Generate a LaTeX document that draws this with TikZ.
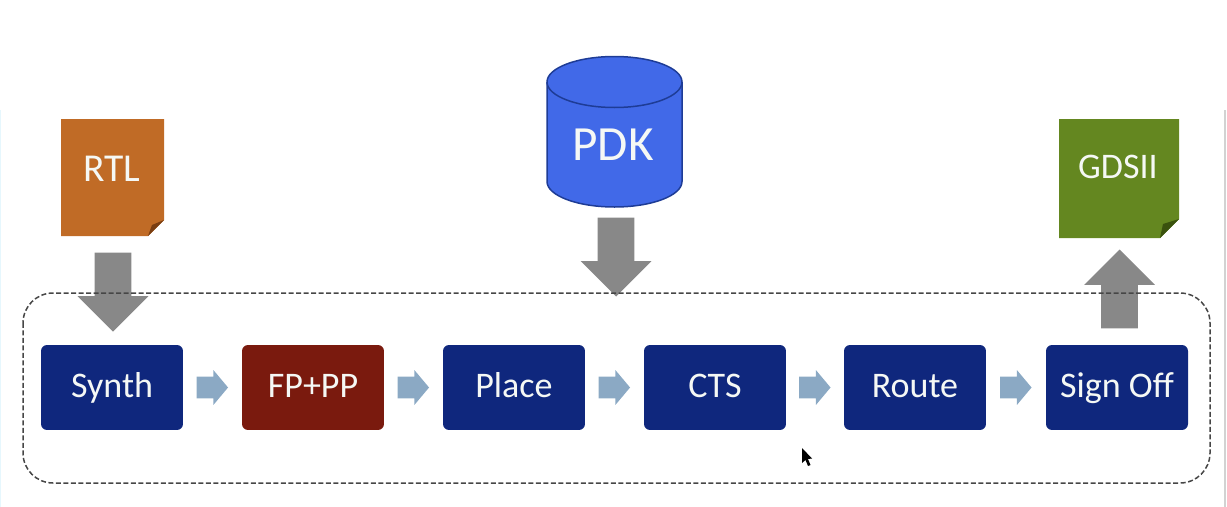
\documentclass[tikz,border=0pt]{standalone}
\usepackage{fontspec}
\setmainfont{Carlito}
\usepackage{tikz}
\usetikzlibrary{calc, shapes.arrows}
\definecolor{boxBlue}{RGB}{15, 39, 125}
\definecolor{boxRed}{RGB}{122, 26, 14}
\definecolor{noteOrange}{RGB}{192, 107, 38}
\definecolor{foldOrange}{RGB}{122, 62, 18}
\definecolor{noteGreen}{RGB}{100, 135, 32}
\definecolor{foldGreen}{RGB}{58, 82, 14}
\definecolor{pdkBlue}{RGB}{65, 105, 232}
\definecolor{pdkEdge}{RGB}{30, 60, 150}
\definecolor{arrowGray}{RGB}{136, 136, 136}
\definecolor{arrowBlue}{RGB}{139, 169, 196}
\definecolor{dashGray}{RGB}{70, 70, 70}
\definecolor{textWhite}{RGB}{245, 248, 245}
\tikzset{
  stage/.style={rounded corners=0.12cm, minimum width=2.84cm, minimum height=1.7cm, inner sep=0pt,
    text height=0.5cm, text depth=0.1cm, text=textWhite, font=\fontsize{20.5}{22}\selectfont},
  flow/.style={single arrow, anchor=tip, fill=arrowBlue, minimum height=0.63cm, inner xsep=0pt, inner ysep=0.21cm,
    single arrow head extend=0.13cm, single arrow head indent=0pt, single arrow tip angle=100},
  feed/.style={single arrow, anchor=tip, fill=arrowGray, minimum height=1.58cm, inner xsep=0pt, inner ysep=0.36cm,
    single arrow head extend=0.34cm, single arrow head indent=0pt}
}
\begin{document}
\begin{tikzpicture}[x=0.02cm, y=-0.02cm]
  \useasboundingbox (0,0) rectangle (1227,507);
  \draw[gray!35, line width=0.03cm] (1225,110) -- (1225,507);
  \draw[cyan!10, line width=0.05cm] (0,110) -- (0,507);

  \node[feed, rotate=-90] (rtlArrow) at (113,332) {};
  \node[feed, rotate=-90] (pdkArrow) at (616,297) {};
  \node[feed, rotate=90] (gdsArrow) at (1119.5,249) {};
  \draw[dashGray, line width=0.03cm, dash pattern=on 0.1cm off 0.05cm, rounded corners=0.6cm]
    (23,293) rectangle (1210,483);

  \node[stage, fill=boxBlue] (synth) at (112,387.5) {Synth};
  \node[stage, fill=boxRed] (fppp) at (313,387.5) {FP+PP};
  \node[stage, fill=boxBlue] (place) at (514,387.5) {Place};
  \node[stage, fill=boxBlue] (cts) at (715,387.5) {CTS};
  \node[stage, fill=boxBlue] (route) at (915,387.5) {Route};
  \node[stage, fill=boxBlue] (signoff) at (1117,387.5) {Sign Off};

  \node[flow] (flowA) at ($(synth.east)!0.5!(fppp.west)+(16,0)$) {};
  \node[flow] (flowB) at ($(fppp.east)!0.5!(place.west)+(16,0)$) {};
  \node[flow] (flowC) at ($(place.east)!0.5!(cts.west)+(16,0)$) {};
  \node[flow] (flowD) at ($(cts.east)!0.5!(route.west)+(16,0)$) {};
  \node[flow] (flowE) at ($(route.east)!0.5!(signoff.west)+(16,0)$) {};

  \fill[noteOrange] (61,119) -- (164,119) -- (164,220) -- (148,236) -- (61,236) -- cycle;
  \fill[foldOrange] (148,236) -- (164,220) -- (152,225) -- cycle;
  \node[text=textWhite, font=\fontsize{22.5}{24}\selectfont] (rtl) at (112,169) {RTL};

  \fill[noteGreen] (1059,119) -- (1179,119) -- (1179,219) -- (1160,238) -- (1059,238) -- cycle;
  \fill[foldGreen] (1160,238) -- (1179,219) -- (1163,224) -- cycle;
  \node[text=textWhite, font=\fontsize{20.5}{22}\selectfont] (gds) at (1118,167) {GDSII};

  \filldraw[fill=pdkBlue, draw=pdkEdge, line width=0.03cm] (547,82) -- (547,181.5)
    arc[start angle=180, end angle=0, x radius=67.5, y radius=25.5] -- (682,82)
    arc[start angle=360, end angle=180, x radius=67.5, y radius=25.5] -- cycle;
  \draw[pdkEdge, line width=0.03cm] (547,82) arc[start angle=180, end angle=0, x radius=67.5, y radius=25.5];
  \node[text=textWhite, font=\fontsize{28}{30}\selectfont] (pdk) at (613,145) {PDK};

  \fill[black] (802,448) -- (802,463) -- (805.5,460) -- (808,466) -- (810.5,465) -- (808,459) -- (812,458.5) -- cycle;
\end{tikzpicture}
\end{document}
